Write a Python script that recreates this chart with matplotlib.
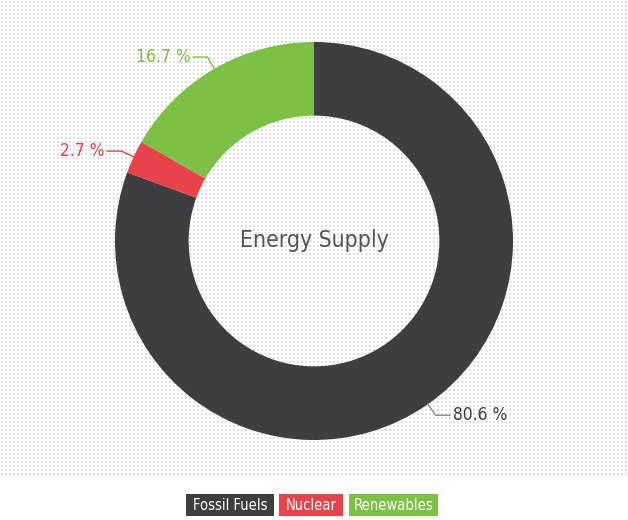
import numpy as np
import matplotlib
matplotlib.use("Agg")
import matplotlib.pyplot as plt
from matplotlib.patches import Rectangle

categories = ["Fossil Fuels", "Nuclear", "Renewables"]
values = [80.6, 2.7, 16.7]
colors = ["#3e3e40", "#e8424b", "#7cc143"]
label_colors = ["#3e3e40", "#e8424b", "#7cc143"]
line_colors = ["#8a8a8a", "#e8424b", "#7cc143"]
center_title = "Energy Supply"

FONT = ["DejaVu Sans"]
STRETCH = "condensed"

W, H = 628, 520
fig = plt.figure(figsize=(W / 100, H / 100), dpi=100, facecolor="white")

# dotted background
img = np.ones((H, W, 3))
dots = np.zeros((H, W), bool)
for dy in (1, 2):
    for dx in (1, 2):
        dots[dy:475:4, dx::4] = True
img[dots] = 0.88
fig.figimage(img, 0, 0, origin="upper", zorder=-5)

cx, cy, R = 314, 241, 199
ax = fig.add_axes([(cx - R) / W, (H - cy - R) / H, 2 * R / W, 2 * R / H])
ax.set_facecolor("none")
ax.axis("off")

wedges, _ = ax.pie(values, colors=colors, startangle=90, counterclock=False,
                   radius=1.0, wedgeprops=dict(width=0.37, linewidth=0))
ax.set_xlim(-1, 1)
ax.set_ylim(-1, 1)

for w, v, lc, tc in zip(wedges, values, line_colors, label_colors):
    ang = np.deg2rad((w.theta1 + w.theta2) / 2)
    p0 = np.array([np.cos(ang), np.sin(ang)]) * 0.995
    p1 = np.array([np.cos(ang), np.sin(ang)]) * 1.068
    side = 1 if np.cos(ang) > 0 else -1
    p2 = p1 + np.array([side * 0.075, 0])
    ax.plot([p0[0], p1[0], p2[0]], [p0[1], p1[1], p2[1]], color=lc, lw=1.0,
            clip_on=False, solid_capstyle="butt")
    ax.text(p2[0] + side * 0.01, p2[1], f"{v:.1f} %", color=tc,
            ha="left" if side > 0 else "right", va="center",
            fontsize=12.5, family=FONT, fontstretch=STRETCH, clip_on=False)

ax.text(0, 0.005, center_title, ha="center", va="center", fontsize=16.5,
        color="#555558", family=FONT, fontstretch=STRETCH)

# legend boxes (pixel extents)
box_x = [(186, 274), (279, 343), (349, 438)]
y0, y1 = 494, 516
for name, c, (xa, xb) in zip(categories, colors, box_x):
    fig.patches.append(Rectangle((xa / W, 1 - y1 / H), (xb - xa) / W, (y1 - y0) / H,
                                 transform=fig.transFigure, facecolor=c,
                                 edgecolor="none", zorder=1))
    fig.text((xa + xb) / 2 / W, 1 - (y0 + y1) / 2 / H, name, ha="center",
             va="center", color="white", fontsize=10.5, family=FONT,
             fontstretch=STRETCH, zorder=2)

fig.savefig("out.png", dpi=100, facecolor="white")
